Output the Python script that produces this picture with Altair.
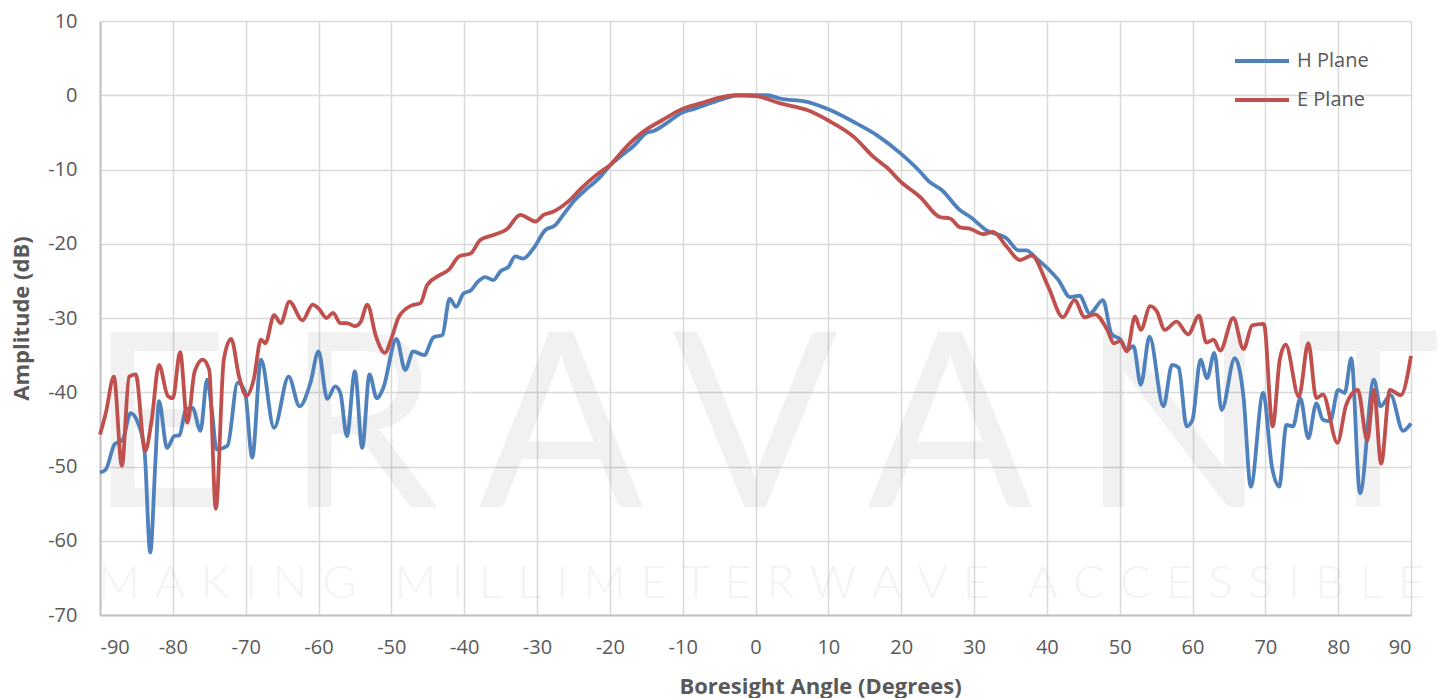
import altair as alt
import pandas as pd

# ---- data ----
h_angle = [-90, -89.2, -88.0, -86.9, -85.8, -84.8, -83.9, -83.1, -82.4, -81.9, -80.8, -79.8, -79.1,
           -78.2, -77.3, -76.2, -75.3, -74.6, -74.0, -72.5, -71.1, -70.1, -69.1, -67.9, -66.1, -64.1,
           -62.6, -61.1, -60.0, -58.8, -57.7, -57.0, -56.1, -55.0, -54.0, -53.0, -52.0, -51.1, -49.3,
           -48.1, -47.0, -45.5, -44.2, -43.0, -42.0, -41.1, -40.1, -39.1, -38.2, -37.1, -36.0, -35.0,
           -33.9, -33.0, -31.9, -30.4, -28.9, -27.5, -26.4, -24.8, -23.4, -21.4, -20.0, -18.6, -16.6,
           -15.0, -14.0, -12.4, -10.2, -8.3, -5.7, -4.3, -2.5, 0, 1.6, 3.4, 7.1, 10, 13.5, 16.7, 20,
           22.6, 23.7, 25.6, 28.1, 29.5, 31.7, 34.5, 36.1, 37.2, 38.6, 40.4, 41.6, 43.2, 44.5, 45.9,
           47.7, 48.9, 50.1, 51.0, 51.9, 52.9, 54.1, 56.0, 57.2, 58.1, 59.2, 60.0, 61.1, 62.0, 63.0,
           64.0, 65.8, 67.0, 68.0, 69.7, 70.9, 71.9, 72.9, 73.8, 74.8, 75.9, 77.0, 77.9, 78.9, 80.0,
           80.9, 81.8, 83.0, 84.9, 85.8, 87.2, 88.9, 90]
h_db = [-50.8, -50.4, -47.0, -46.4, -42.8, -44.1, -47.7, -61.6, -49.5, -41.2, -47.5, -45.9, -45.8,
        -42.3, -42.1, -45.2, -38.3, -42.8, -47.7, -47.2, -38.7, -39.9, -48.8, -35.6, -44.8, -37.9,
        -41.9, -38.7, -34.5, -40.9, -39.2, -40.1, -45.9, -37.2, -47.5, -37.6, -40.8, -39.4, -32.8,
        -37.0, -34.5, -35.0, -32.6, -32.3, -27.4, -28.5, -26.7, -26.3, -25.2, -24.5, -24.9, -23.7,
        -23.1, -21.7, -22.0, -20.5, -18.2, -17.5, -16.1, -14.1, -12.8, -11.1, -9.5, -8.3, -6.7,
        -5.1, -4.8, -3.9, -2.4, -1.8, -0.9, -0.45, 0.0, 0.0, 0.0, -0.45, -0.9, -1.9, -3.6, -5.4, -7.9,
        -10.3, -11.5, -12.8, -15.5, -16.4, -18.2, -19.3, -20.9, -20.9, -22.0, -23.6, -24.9, -27.2,
        -27.0, -29.4, -27.6, -32.2, -32.9, -34.3, -33.8, -39.0, -32.5, -41.9, -36.3, -36.7, -44.6,
        -43.7, -35.6, -38.1, -34.7, -42.4, -35.4, -40.6, -52.7, -40.1, -50.0, -52.7, -44.4, -44.6,
        -40.8, -46.2, -41.5, -43.7, -43.9, -39.7, -40.1, -35.4, -53.6, -38.3, -41.9, -40.4, -45.2,
        -44.2]

e_angle = [-90, -89.2, -88.1, -87.0, -86.0, -85.1, -83.8, -82.9, -81.9, -80.7, -80.0, -79.0, -78.0,
           -77.0, -75.9, -75.0, -74.1, -73.0, -72.0, -70.9, -69.9, -68.9, -67.9, -67.3, -66.1, -65.2,
           -64.0, -62.2, -60.8, -60.0, -58.9, -58.0, -57.0, -56.1, -55.0, -54.2, -53.3, -52.1, -50.9,
           -49.9, -49.0, -47.2, -46.0, -45.1, -43.5, -42.1, -40.7, -39.1, -37.8, -35.9, -34.1, -32.3,
           -30.2, -29.1, -27.8, -25.7, -23.9, -21.8, -20.0, -17.7, -15.4, -12.7, -10.2, -7.2, -4.8,
           -2.7, 0, 3.4, 7.1, 10, 13.5, 16.2, 18.0, 20, 22.6, 25.3, 26.7, 28.1, 29.5, 31.3, 32.6,
           34.5, 36.3, 37.9, 40.2, 42.2, 43.8, 45.2, 46.6, 48.3, 49.2, 50.1, 51.0, 52.1, 52.9, 54.2,
           55.1, 56.2, 57.8, 59.4, 60.9, 61.9, 62.9, 63.8, 65.6, 67.0, 68.2, 69.8, 71.0, 72.0, 72.8,
           74.6, 75.9, 77.0, 77.9, 79.9, 81.1, 82.7, 84.0, 84.9, 85.9, 87.1, 88.6, 90]
e_db = [-45.7, -42.8, -37.9, -49.9, -37.9, -37.6, -47.9, -43.7, -36.3, -40.5, -40.8, -34.6, -44.1,
        -37.2, -35.6, -37.0, -55.7, -35.6, -32.8, -37.9, -40.5, -38.3, -32.9, -33.4, -29.6, -30.7,
        -27.8, -30.3, -28.2, -28.7, -30.0, -29.3, -30.7, -30.7, -31.1, -30.5, -28.2, -32.5, -34.7,
        -32.5, -29.9, -28.3, -28.0, -25.6, -24.3, -23.5, -21.7, -21.3, -19.5, -18.8, -18.0, -16.1,
        -17.0, -16.1, -15.7, -14.3, -12.5, -10.7, -9.4, -6.9, -4.9, -3.3, -1.9, -1.0, -0.3,
        0.0, -0.1, -1.1, -2.0, -3.4, -5.6, -8.3, -9.7, -11.7, -13.7, -16.4, -16.6, -17.8, -18.0,
        -18.7, -18.4, -20.4, -22.2, -21.6, -25.8, -29.9, -27.6, -29.9, -29.5, -31.6, -33.4, -33.1,
        -34.5, -29.8, -31.6, -28.4, -29.1, -31.6, -30.5, -32.2, -29.7, -33.3, -32.9, -34.4, -30.0,
        -34.2, -31.0, -30.8, -44.6, -35.5, -33.6, -40.6, -33.4, -40.8, -40.3, -46.8, -41.7, -39.7,
        -46.5, -39.7, -49.6, -39.7, -40.4, -35.1]

series_names = ["H Plane", "E Plane"]
series_colors = ["#4F81BD", "#C0504D"]
x_ticks = list(range(-90, 91, 10))
y_ticks = list(range(-70, 11, 10))

# watermark (decoration): letters and their horizontal centres in pixels from the plot's left edge
wm_letters = ["E", "R", "A", "V", "A", "N", "T"]
wm_centres = [59, 262, 461, 655, 850, 1074, 1268]
sp = "\u2004"
watermark_small = (sp.join("MAKING") + sp + "\u2002" + sp.join("MILLIMETERWAVE")
                   + sp + "\u2002" + sp.join("ACCESSIBLE"))

h_df = pd.DataFrame({"angle": h_angle, "db": h_db, "plane": series_names[0]})
e_df = pd.DataFrame({"angle": e_angle, "db": e_db, "plane": series_names[1]})
wm_df = pd.DataFrame({"t": wm_letters, "px": wm_centres})

FONT = "Open Sans"
GREY = "#595959"

x_enc = alt.X("angle:Q",
              scale=alt.Scale(domain=[-90, 90], nice=False),
              axis=alt.Axis(values=x_ticks, title="Boresight Angle (Degrees)",
                            labelExpr="'' + datum.value",
                            titleX=720, titleY=78, titleBaseline="alphabetic",
                            titleAlign="center"))
y_enc = alt.Y("db:Q",
              scale=alt.Scale(domain=[-70, 10], nice=False),
              axis=alt.Axis(values=y_ticks, title="Amplitude (dB)",
                            labelExpr="'' + datum.value",
                            titleX=-72, titleY=297, titleAngle=-90,
                            titleBaseline="alphabetic", titleAlign="center"))
color_enc = alt.Color("plane:N",
                      scale=alt.Scale(domain=series_names, range=series_colors),
                      legend=alt.Legend(title=None, orient="none", legendX=1133, legendY=11,
                                        symbolType="stroke", symbolSize=2916,
                                        symbolStrokeWidth=4, labelOffset=6,
                                        labelFontSize=20, labelColor=GREY, labelFont=FONT,
                                        rowPadding=0, padding=0))

mark_kw = dict(interpolate="monotone", strokeWidth=3.8)
h_line = alt.Chart(h_df).mark_line(**mark_kw).encode(x=x_enc, y=y_enc, color=color_enc)
e_line = alt.Chart(e_df).mark_line(**mark_kw).encode(x=x_enc, y=y_enc, color=color_enc)

wm_big = alt.Chart(wm_df).mark_text(
    font="Lato", fontSize=244, fontWeight="normal", color="#000000", opacity=0.05,
    align="center", baseline="alphabetic"
).encode(text="t:N", x=alt.X("px:Q", scale=None), y=alt.value(486))

wm_small = alt.Chart(pd.DataFrame({"t": [watermark_small]})).mark_text(
    font="Lato", fontSize=46, fontWeight=300, color="#000000", opacity=0.045,
    align="left", baseline="alphabetic"
).encode(text="t:N", x=alt.value(-2), y=alt.value(577))

chart = alt.layer(wm_big, wm_small, h_line, e_line).properties(
    width=1311, height=594,
    autosize=alt.AutoSizeParams(type="none"),
    padding={"left": 100, "top": 21, "right": 29, "bottom": 83},
    background="white",
).configure_view(stroke=None).configure_axis(
    grid=True, gridColor="#d9d9d9", gridWidth=1.5,
    domainColor="#bfbfbf", domainWidth=1.8, ticks=False,
    labelFont=FONT, labelFontSize=20, labelColor=GREY, labelPadding=22,
    titleFont=FONT, titleFontSize=22, titleFontWeight="bold", titleColor=GREY,
).configure_axisY(labelPadding=23)

chart.save("out.html", embed_options={"renderer": "svg", "actions": False})
